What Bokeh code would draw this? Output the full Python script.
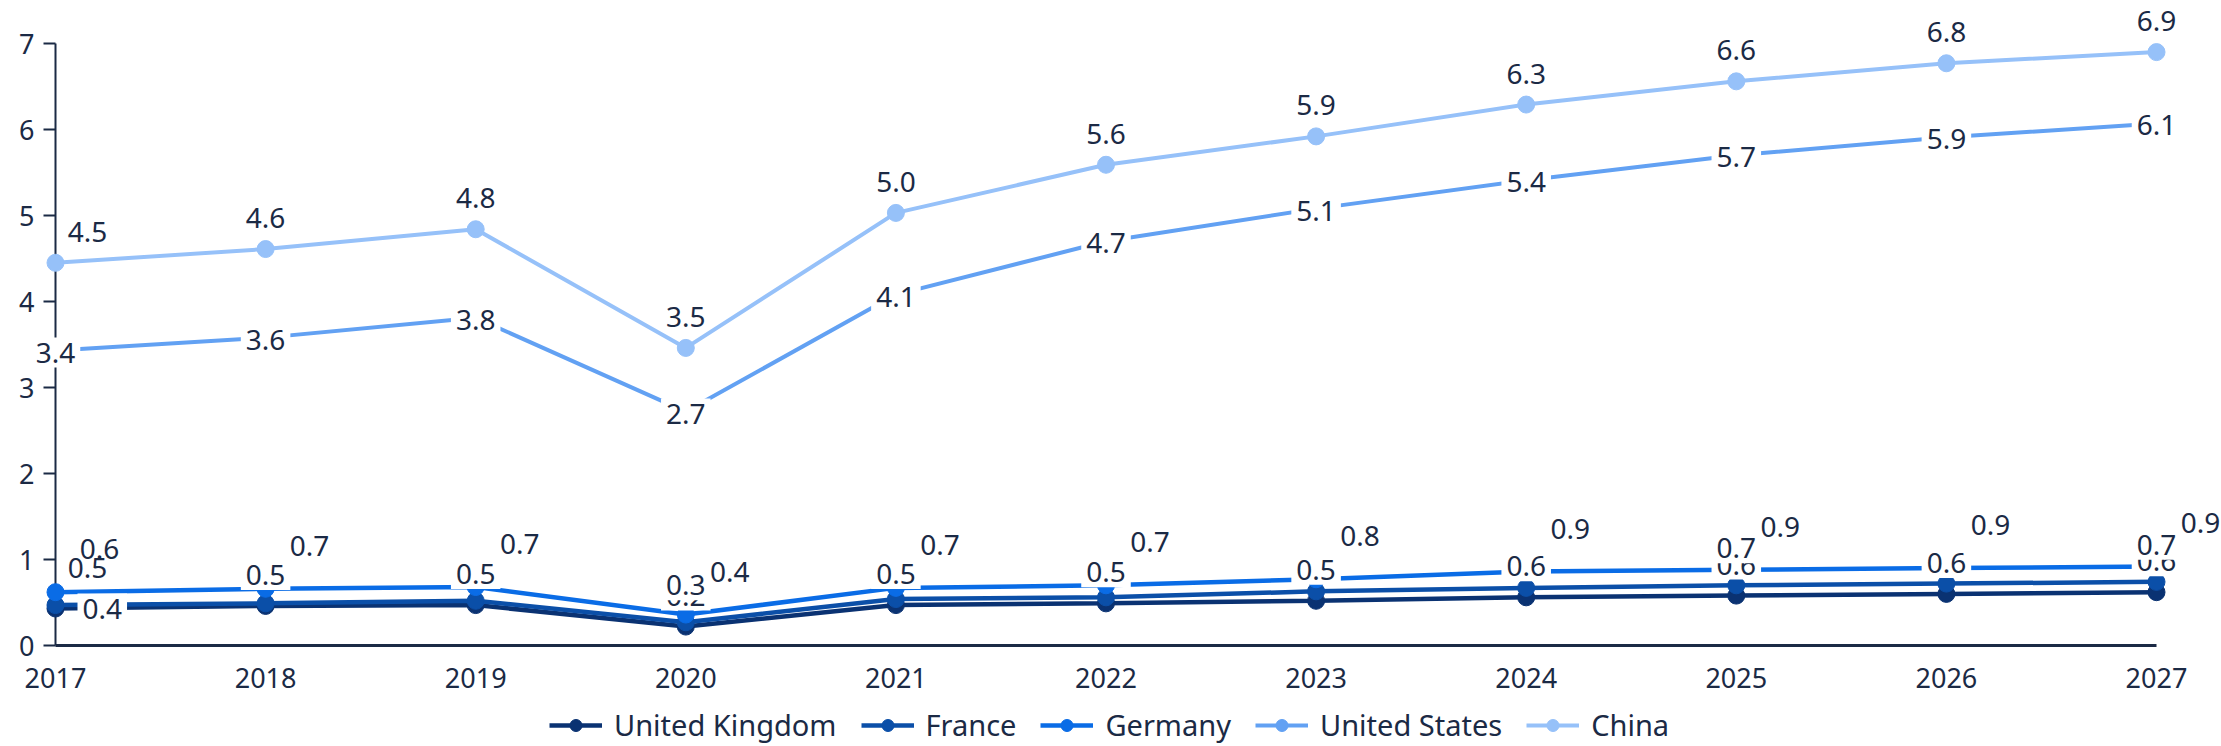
from bokeh.plotting import figure
from bokeh.models import Range1d, FixedTicker, Label, Legend, LegendItem, LinearAxis
from bokeh.embed import file_html
from bokeh.resources import INLINE

# ---- data ----
years = [2017, 2018, 2019, 2020, 2021, 2022, 2023, 2024, 2025, 2026, 2027]
united_kingdom = [0.43, 0.46, 0.47, 0.22, 0.47, 0.49, 0.52, 0.56, 0.58, 0.60, 0.62]
france = [0.47, 0.49, 0.52, 0.27, 0.54, 0.56, 0.63, 0.67, 0.70, 0.72, 0.74]
germany = [0.62, 0.66, 0.68, 0.36, 0.67, 0.70, 0.77, 0.86, 0.88, 0.90, 0.92]
united_states = [3.43, 3.58, 3.81, 2.72, 4.08, 4.70, 5.08, 5.41, 5.70, 5.91, 6.07]
china = [4.45, 4.61, 4.84, 3.46, 5.03, 5.59, 5.92, 6.29, 6.56, 6.77, 6.90]
series_names = ["United Kingdom", "France", "Germany", "United States", "China"]
y_ticks = [0, 1, 2, 3, 4, 5, 6, 7]

# ---- style ----
colors = ["#0a3272", "#0b4fa8", "#0a6ce6", "#62a1f3", "#96c1f9"]
text_color = "#1b2a45"
font = "Noto Sans"

W, H = 2221, 746
x_px0, x_px1 = 55, 2156      # screen x of first / last year
y_px0, y_px7 = 645, 43       # screen y of 0 / 7
kx = (x_px1 - x_px0) / (years[-1] - years[0])
ky = (y_px0 - y_px7) / (y_ticks[-1] - y_ticks[0])
x_range = Range1d(years[0] - x_px0 / kx, years[-1] + (W - x_px1) / kx)
y_range = Range1d(y_ticks[0] - (H - y_px0) / ky, y_ticks[-1] + y_px7 / ky)

p = figure(frame_width=W, frame_height=H, min_border=0,
           x_range=x_range, y_range=y_range, x_axis_type=None, y_axis_type=None,
           output_backend="svg", toolbar_location=None)
p.outline_line_color = None
p.grid.visible = False

xaxis = LinearAxis(fixed_location=0, ticker=FixedTicker(ticks=years))
xaxis.axis_line_color = None
xaxis.major_tick_line_color = None
xaxis.minor_tick_line_color = None
xaxis.major_label_standoff = 16
xaxis.major_label_text_font = font
xaxis.major_label_text_font_size = "27px"
xaxis.major_label_text_color = text_color
p.add_layout(xaxis, "below")

yaxis = LinearAxis(fixed_location=years[0], ticker=FixedTicker(ticks=y_ticks))
yaxis.axis_line_color = None
yaxis.major_tick_out = 12
yaxis.major_tick_in = 0
yaxis.major_tick_line_width = 2
yaxis.major_tick_line_color = text_color
yaxis.minor_tick_line_color = None
yaxis.major_label_standoff = 9
yaxis.major_label_text_font = font
yaxis.major_label_text_font_size = "27px"
yaxis.major_label_text_color = text_color
p.add_layout(yaxis, "left")

# axis lines as glyphs (so that label boxes can cover them)
p.segment(x0=[years[0]], y0=[0], x1=[years[-1]], y1=[0], line_color=text_color, line_width=3)
p.segment(x0=[years[0]], y0=[0], x1=[years[0]], y1=[y_ticks[-1]], line_color=text_color, line_width=2)

all_series = [united_kingdom, france, germany, united_states, china]
widths = [4.5, 4.5, 4.5, 4, 4]
items = []
for name, vals, col, lw in zip(series_names, all_series, colors, widths):
    rl = p.line(years, vals, line_color=col, line_width=lw)
    rs = p.scatter(years, vals, size=17, fill_color=col, line_color=col)
    items.append(LegendItem(label=name, renderers=[rl, rs]))

legend = Legend(items=items, orientation="horizontal", location=(549, 2),
                glyph_width=53, glyph_height=30, label_standoff=12, spacing=24,
                padding=0, margin=0, border_line_color=None, background_fill_alpha=0,
                label_text_font=font, label_text_font_size="29px", label_text_color=text_color)
p.add_layout(legend)


def add_label(x, y, xo, yo, box, align="center"):
    p.add_layout(Label(x=x, y=y, text=f"{y:.1f}", x_offset=xo, y_offset=yo,
                       text_align=align, text_baseline="middle", text_font=font,
                       text_font_size="28px", text_color=text_color,
                       background_fill_color="white" if box else None,
                       padding=5 if box else 0))


# UK labels: first one to the right, others above
for i, (x, v) in enumerate(zip(years, united_kingdom)):
    if i == 0:
        add_label(x, v, 22, 0, True, "left")
    else:
        add_label(x, v, 0, 31, True)
# France labels (those that stay visible after overlap handling)
france_shown = [0, 3, 8, 10]
for i in france_shown:
    add_label(years[i], france[i], 32 if i == 0 else 0, 37, True)
# Germany labels: up-right
for x, v in zip(years, germany):
    add_label(x, v, 44, 43, False)
# United States labels: on the point
for x, v in zip(years, united_states):
    add_label(x, v, 0, -2, True)
# China labels: above
for i, (x, v) in enumerate(zip(years, china)):
    add_label(x, v, 32 if i == 0 else 0, 31, False)

open("out.html", "w").write(file_html(p, INLINE))
